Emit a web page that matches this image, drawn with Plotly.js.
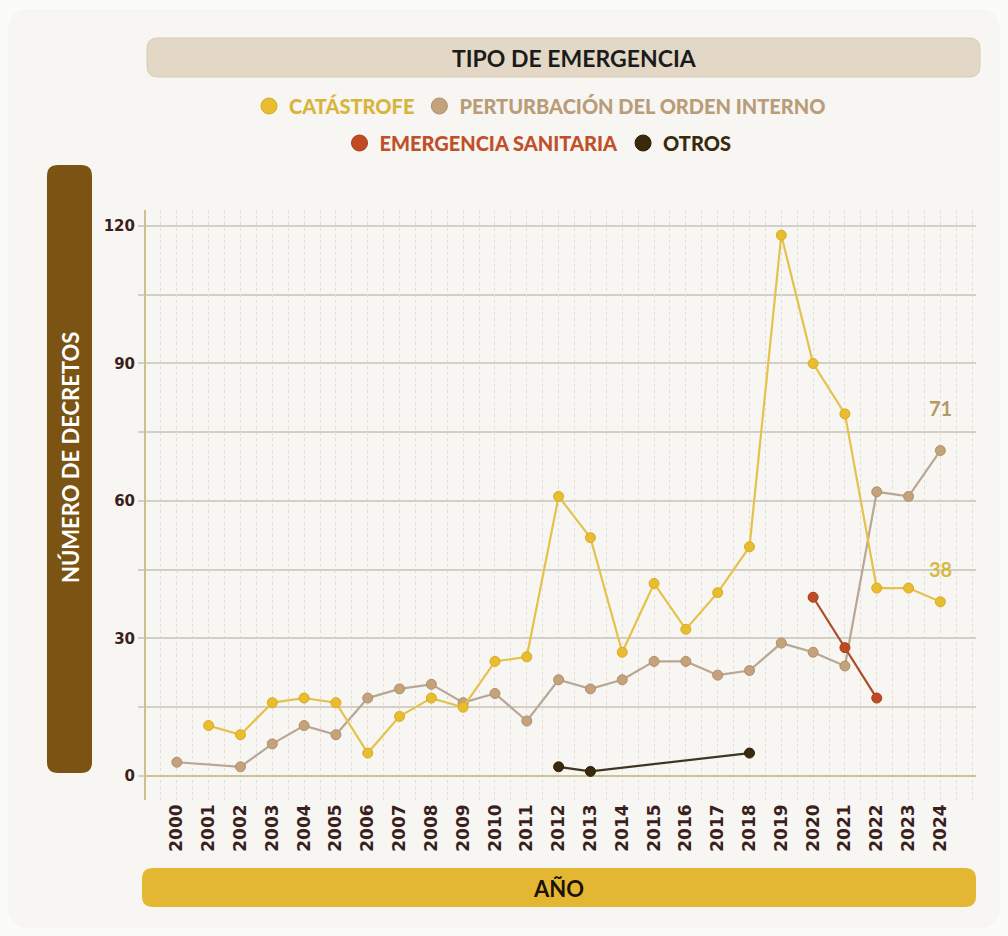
<!DOCTYPE html>
<html><head><meta charset="utf-8">
<script src="https://cdn.plot.ly/plotly-3.0.1.min.js"></script>
<style>html,body{margin:0;padding:0;background:#fbfbf9;} #chart{width:1008px;height:936px;}</style>
</head><body><div id="chart"></div>
<script>
// ---- data ----
const years = [2000,2001,2002,2003,2004,2005,2006,2007,2008,2009,2010,2011,2012,2013,2014,2015,2016,2017,2018,2019,2020,2021,2022,2023,2024];
const catastrofe   = [null,11,9,16,17,16,5,13,17,15,25,26,61,52,27,42,32,40,50,118,90,79,41,41,38];
const perturbacion = [3,null,2,7,11,9,17,19,20,16,18,12,21,19,21,25,25,22,23,29,27,24,62,61,71];
const sanitaria    = [null,null,null,null,null,null,null,null,null,null,null,null,null,null,null,null,null,null,null,null,39,28,17,null,null];
const otros        = [null,null,null,null,null,null,null,null,null,null,null,null,2,1,null,null,null,null,5,null,null,null,null,null,null];
const seriesNames = ['CATÁSTROFE','PERTURBACIÓN DEL ORDEN INTERNO','EMERGENCIA SANITARIA','OTROS'];
const yTicks = [0,30,60,90,120];

// ---- styling ----
const C = {
  cat:  {line:'#e4c24c', mk:'#e8bd2f', mkl:'#d8ab22', txt:'#d9b43c'},
  per:  {line:'#b9a795', mk:'#c4a27b', mkl:'#b28f68', txt:'#b99c78'},
  san:  {line:'#b04a2c', mk:'#c04a22', mkl:'#a83c1a', txt:'#c0502a'},
  otr:  {line:'#3e3520', mk:'#3a2a0c', mkl:'#2c1f06', txt:'#3a2a0c'}
};
const FONT = 'Lato, "Open Sans", sans-serif';
const TICKFONT = '"DejaVu Sans", sans-serif';
const L=146, R=976, T=210, B=800;
const px = x => (x-L)/(R-L);
const py = y => (B-y)/(B-T);
function rr(x0,y0,x1,y1,r){
  const P=(x,y)=>px(x).toFixed(5)+','+py(y).toFixed(5);
  return 'M'+P(x0+r,y0)+' L'+P(x1-r,y0)+' Q'+P(x1,y0)+' '+P(x1,y0+r)+
         ' L'+P(x1,y1-r)+' Q'+P(x1,y1)+' '+P(x1-r,y1)+
         ' L'+P(x0+r,y1)+' Q'+P(x0,y1)+' '+P(x0,y1-r)+
         ' L'+P(x0,y0+r)+' Q'+P(x0,y0)+' '+P(x0+r,y0)+' Z';
}

function lineTrace(y, c){
  return {x: years, y: y, mode:'lines+markers', connectgaps:true, showlegend:false, hoverinfo:'x+y',
    line:{color:c.line, width:2.2}, marker:{size:10, color:c.mk, line:{color:c.mkl, width:1}}};
}
function legTrace(name, c, leg){
  return {x:[null], y:[null], mode:'markers', name:'<span style="color:'+c.txt+'">'+name+'</span>',
    legend:leg, marker:{size:16, color:c.mk, line:{color:c.mkl, width:1}}};
}
const traces = [
  lineTrace(perturbacion, C.per),
  lineTrace(catastrofe, C.cat),
  lineTrace(sanitaria, C.san),
  lineTrace(otros, C.otr),
  legTrace(seriesNames[0], C.cat, 'legend'),
  legTrace(seriesNames[1], C.per, 'legend'),
  legTrace(seriesNames[2], C.san, 'legend2'),
  legTrace(seriesNames[3], C.otr, 'legend2')
];

const legBase = {orientation:'h', xanchor:'center', yanchor:'middle', bgcolor:'rgba(0,0,0,0)',
  font:{family:FONT, size:20, weight:900}, itemwidth:30, traceorder:'normal'};

const lastIdx = years.length-1;
function boxText(x,y,text,size,color,angle){
  return {xref:'paper', yref:'paper', x:px(x), y:py(y), xanchor:'center', yanchor:'middle',
    text:'<b>'+text+'</b>', showarrow:false, textangle:angle||0, font:{family:FONT, size:size, color:color}};
}
const layout = {
  width:1008, height:936,
  paper_bgcolor:'#fbfbf9', plot_bgcolor:'rgba(0,0,0,0)',
  margin:{l:L, r:1008-R, t:T, b:936-B},
  font:{family:FONT},
  xaxis:{range:[1999.03,2025.12], tickvals:years, ticktext:years.map(String), tickangle:-90,
    tickfont:{family:TICKFONT, size:17, weight:700, color:'#3b1f1f'},
    showgrid:true, gridcolor:'#e2ded6', griddash:'dot', gridwidth:1,
    minor:{dtick:0.5, tick0:2000, showgrid:true, gridcolor:'#e2ded6', griddash:'dot', gridwidth:1},
    ticks:'', zeroline:false, showline:false, fixedrange:true},
  yaxis:{range:[-5.24,123.49], tickvals:yTicks,
    tickfont:{family:TICKFONT, size:15, weight:700, color:'#3b1f1f'},
    showgrid:true, gridcolor:'#d3cec6', gridwidth:2,
    minor:{dtick:15, tick0:0, showgrid:true, gridcolor:'#d3cec6', gridwidth:2, ticks:'outside', ticklen:6, tickcolor:'#d3cec6', tickwidth:2},
    ticks:'outside', ticklen:6, tickcolor:'#d3cec6', tickwidth:2,
    zeroline:true, zerolinecolor:'#cdc291', zerolinewidth:2,
    showline:true, linecolor:'#cbc08f', linewidth:2, fixedrange:true},
  legend: Object.assign({}, legBase, {x:px(540), y:py(106)}),
  legend2: Object.assign({}, legBase, {x:px(538), y:py(143)}),
  shapes:[
    {type:'path', xref:'paper', yref:'paper', layer:'below', path:rr(8,9,1000,928,22), fillcolor:'#f7f6f2', line:{width:0}},
    {type:'path', xref:'paper', yref:'paper', layer:'below', path:rr(147,38,980,77,11), fillcolor:'#e2d8c5', line:{color:'#d6cab4', width:1}},
    {type:'path', xref:'paper', yref:'paper', layer:'below', path:rr(47,165,92,773,11), fillcolor:'#7b5313', line:{width:0}},
    {type:'path', xref:'paper', yref:'paper', layer:'below', path:rr(142,868,976,907,11), fillcolor:'#e4b733', line:{width:0}}
  ],
  annotations:[
    boxText(574,58,'TIPO DE EMERGENCIA',23,'#1b1b1b'),
    boxText(558,888,'AÑO',22,'#1b1208'),
    boxText(70,458,'NÚMERO DE DECRETOS',22,'#ffffff',-90),
    {x:years[lastIdx], y:perturbacion[lastIdx], yshift:43, text:'<b>'+perturbacion[lastIdx]+'</b>', showarrow:false,
      font:{family:FONT, size:20, color:'#b49a62'}},
    {x:years[lastIdx], y:catastrofe[lastIdx], yshift:33, text:'<b>'+catastrofe[lastIdx]+'</b>', showarrow:false,
      font:{family:FONT, size:20, color:'#d9b845'}}
  ]
};
Plotly.newPlot('chart', traces, layout, {displayModeBar:false, staticPlot:true});
</script></body></html>
